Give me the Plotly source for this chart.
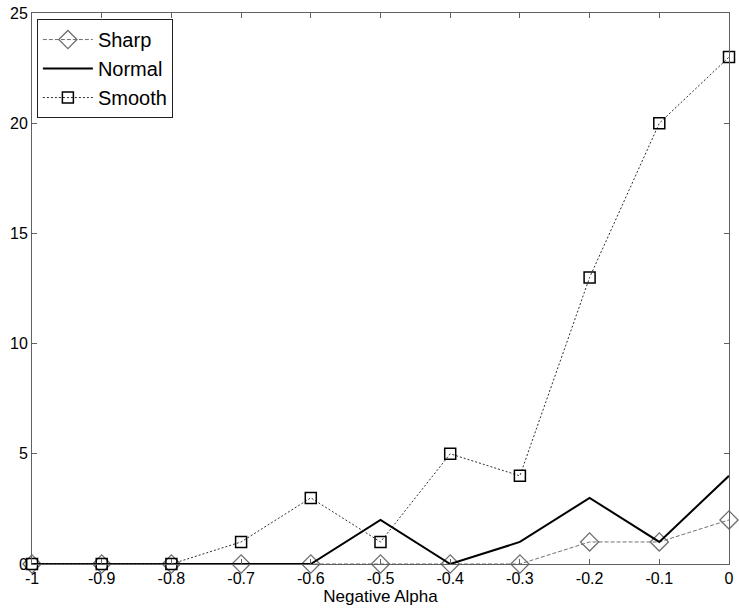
import plotly.graph_objects as go

x = [-1, -0.9, -0.8, -0.7, -0.6, -0.5, -0.4, -0.3, -0.2, -0.1, 0]
sharp = [0, 0, 0, 0, 0, 0, 0, 0, 1, 1, 2]
normal = [0, 0, 0, 0, 0, 2, 0, 1, 3, 1, 4]
smooth = [0, 0, 0, 1, 3, 1, 5, 4, 13, 20, 23]
xticks = [-1, -0.9, -0.8, -0.7, -0.6, -0.5, -0.4, -0.3, -0.2, -0.1, 0]
xticklabels = ["-1", "-0.9", "-0.8", "-0.7", "-0.6", "-0.5", "-0.4", "-0.3", "-0.2", "-0.1", "0"]
yticks = [0, 5, 10, 15, 20, 25]

FONT = "Liberation Sans, Arial"

fig = go.Figure()
fig.add_trace(go.Scatter(
    x=x, y=sharp, name="Sharp", mode="lines+markers",
    line=dict(color="#707070", width=1, dash="4px,2px"),
    marker=dict(symbol="diamond-open", size=14, color="#707070", line=dict(width=1.3)),
    cliponaxis=False))
fig.add_trace(go.Scatter(
    x=x, y=normal, name="Normal", mode="lines",
    line=dict(color="black", width=2), cliponaxis=False))
fig.add_trace(go.Scatter(
    x=x, y=smooth, name="Smooth", mode="lines+markers",
    line=dict(color="#303030", width=1, dash="2px,2px"),
    marker=dict(symbol="square-open", size=11, color="black", line=dict(width=1.5)),
    cliponaxis=False))

axis_common = dict(
    showgrid=False, zeroline=False, showline=True, linecolor="#606060", linewidth=1,
    mirror="ticks", ticks="inside", ticklen=5, tickcolor="#606060",
    tickfont=dict(family=FONT, size=16, color="black"),
)
fig.update_xaxes(range=[-1, 0], tickvals=xticks, ticktext=xticklabels,
                 title=dict(text="Negative Alpha", font=dict(family=FONT, size=17, color="black"), standoff=0),
                 **axis_common)
fig.update_yaxes(range=[0, 25], tickvals=yticks, **axis_common)

fig.update_layout(
    width=739, height=609,
    margin=dict(l=32, r=5, t=9, b=45),
    plot_bgcolor="white", paper_bgcolor="white",
    font=dict(family=FONT, color="black"),
    legend=dict(x=0.007, y=0.989, xanchor="left", yanchor="top",
                bordercolor="#202020", borderwidth=1, bgcolor="white",
                font=dict(size=20, family=FONT),
                tracegroupgap=0, itemwidth=50),
    showlegend=True,
)
fig.write_html("out.html")
